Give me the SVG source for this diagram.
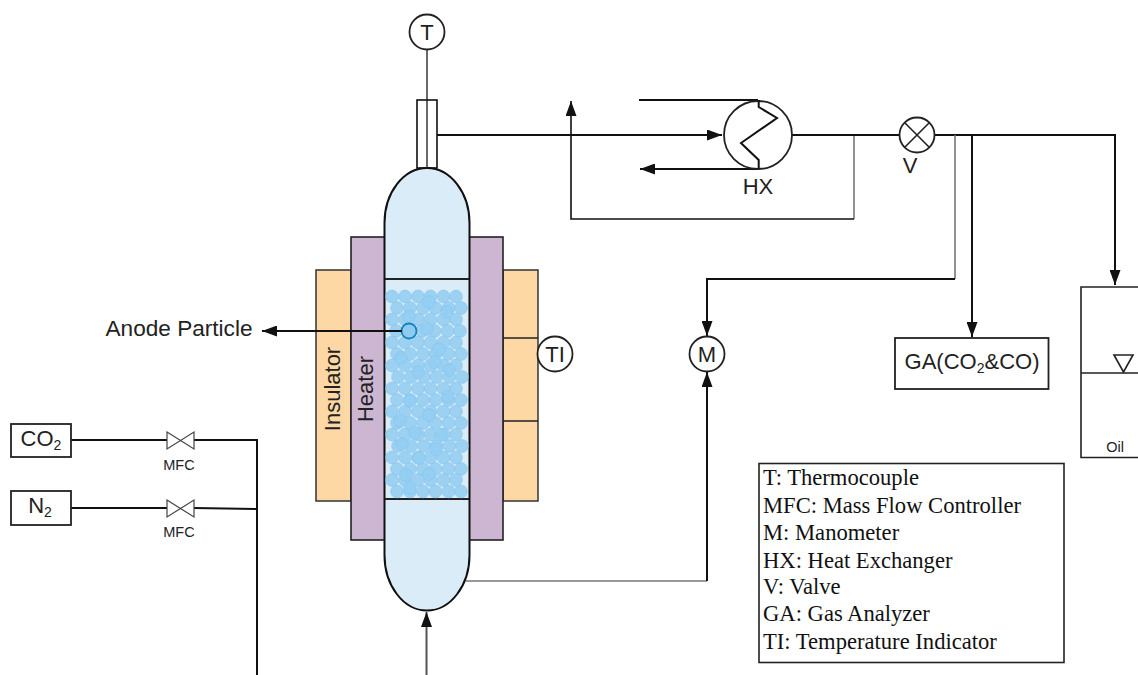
<svg xmlns="http://www.w3.org/2000/svg" width="1138" height="675" viewBox="0 0 1138 675">
<style>
text{font-family:"Liberation Sans",Arial,sans-serif;fill:#222;text-anchor:middle}
.s{fill:none;stroke:#111;stroke-width:2}
.g{fill:none;stroke:#777;stroke-width:1.6}
.b{fill:#fff;stroke:#222;stroke-width:1.8}
.t20{font-size:22px}
.t13{font-size:14.500px}
.leg{font-family:"Liberation Serif","Times New Roman",serif;font-size:22.600px;text-anchor:start;fill:#111}
.p{fill:#93cdf1;fill-opacity:.88;stroke:#84c5ee;stroke-width:.6}
</style>
<defs>
<marker id="a" viewBox="0 0 15 11" refX="15" refY="5.500" markerWidth="15" markerHeight="11" markerUnits="userSpaceOnUse" orient="auto"><path d="M0 0L15 5.500L0 11Z" fill="#111"/></marker>
<g id="r"><circle class="p" cx="392" cy="0" r="6.400"/><circle class="p" cx="405" cy="0" r="6.400"/><circle class="p" cx="418" cy="0" r="6.400"/><circle class="p" cx="430.500" cy="0" r="6.400"/><circle class="p" cx="443.500" cy="0" r="6.400"/><circle class="p" cx="456" cy="0" r="6.400"/></g>
</defs>
<rect width="1138" height="675" fill="#fff"/>
<g id="insulator">
<rect x="316" y="270" width="35" height="231" fill="#fdd7a4" stroke="#333" stroke-width="1.500"/>
<rect x="503" y="270" width="35" height="231" fill="#fdd7a4" stroke="#333" stroke-width="1.500"/>
<path d="M503 338H538M503 421H538" stroke="#222" stroke-width="1.500"/>
<text class="t20" transform="translate(340,389) rotate(-90)">Insulator</text>
</g>
<g id="heater">
<rect x="351" y="237" width="152" height="303" fill="#cdb6d1" stroke="#222" stroke-width="1.600"/>
<text class="t20" transform="translate(373,389) rotate(-90)">Heater</text>
</g>
<g id="reactor">
<path d="M384.500 223A42.500 55 0 0 1 469.500 223V555A42.500 55.500 0 0 1 384.500 555Z" fill="#daecf7" stroke="#111" stroke-width="2"/>
<path d="M385 279H469M385 499H469" stroke="#222" stroke-width="1.800"/>
<g id="particles">
<use href="#r" y="296.500"/><use href="#r" x="5" y="308"/><use href="#r" x="0" y="319.500"/><use href="#r" x="4" y="331"/><use href="#r" x="0" y="342.500"/><use href="#r" x="5" y="354"/><use href="#r" x="0" y="365.500"/><use href="#r" x="6" y="377"/><use href="#r" x="0" y="388.500"/><use href="#r" x="5" y="400"/><use href="#r" x="0" y="411.500"/><use href="#r" x="5" y="423"/><use href="#r" x="0" y="434.500"/><use href="#r" x="6" y="446"/><use href="#r" x="0" y="457.500"/><use href="#r" x="5" y="469"/><use href="#r" x="0" y="480"/><use href="#r" x="5" y="491.500"/>
<circle class="p" cx="429" cy="302" r="6.400"/><circle class="p" cx="447" cy="312" r="6.400"/><circle class="p" cx="409" cy="316" r="6.400"/><circle class="p" cx="427" cy="329" r="6.400"/><circle class="p" cx="439" cy="349" r="6.400"/><circle class="p" cx="401" cy="358" r="6.400"/><circle class="p" cx="435" cy="362" r="6.400"/><circle class="p" cx="418" cy="372" r="6.400"/><circle class="p" cx="449" cy="370" r="6.400"/><circle class="p" cx="448" cy="397" r="6.400"/><circle class="p" cx="410" cy="401" r="6.400"/><circle class="p" cx="429" cy="415" r="6.400"/><circle class="p" cx="400" cy="421" r="6.400"/><circle class="p" cx="441" cy="435" r="6.400"/><circle class="p" cx="415" cy="433" r="6.400"/><circle class="p" cx="402" cy="444" r="6.400"/><circle class="p" cx="436" cy="449" r="6.400"/><circle class="p" cx="419" cy="458" r="6.400"/><circle class="p" cx="429" cy="474" r="6.400"/><circle class="p" cx="406" cy="475" r="6.400"/><circle class="p" cx="410" cy="488" r="6.400"/>
</g>
<circle cx="409" cy="331" r="7.500" fill="#8ecbf0" stroke="#1a82bd" stroke-width="1.800"/>
</g>
<g id="connectors">
<path class="s" d="M402 331H262" marker-end="url(#a)"/>
<path d="M427 50V168" fill="none" stroke="#444" stroke-width="1.600"/>
<path class="s" d="M437 135H722" marker-end="url(#a)"/>
<path class="s" d="M639 100H758"/>
<path class="s" d="M758 169H640" marker-end="url(#a)"/>
<path class="g" d="M854 135V219"/>
<path class="s" style="stroke-width:1.600" d="M854 219H571V101" marker-end="url(#a)"/>
<path class="s" d="M792 135H899M935 135H1115V285" marker-end="url(#a)"/>
<path class="g" d="M955 135V279"/>
<path class="s" d="M955 279H707V336" marker-end="url(#a)"/>
<path class="s" d="M972 135V337" marker-end="url(#a)"/>
<path class="g" d="M466 581H707"/>
<path class="s" d="M707 581V372" marker-end="url(#a)"/>
<path class="g" style="stroke:#555;stroke-width:2" d="M426.500 675V612" marker-end="url(#a)"/>
<path class="s" d="M71 440H167M194 440H257V675M71 508H167M194 508L257 509"/>
</g>
<g id="thermowell"><rect x="417" y="100" width="20" height="68" fill="none" stroke="#111" stroke-width="1.600"/></g>
<g id="T"><circle class="b" cx="427" cy="32" r="17.500"/><text class="t20" x="427" y="40">T</text></g>
<g id="TI"><circle class="b" cx="555" cy="354" r="17.500"/><text class="t20" x="555" y="362">TI</text></g>
<g id="M"><circle class="b" cx="707" cy="354" r="17.500"/><text class="t20" x="707" y="362">M</text></g>
<g id="HX"><circle class="b" cx="758" cy="135" r="34"/><path class="s" d="M758.700 100V107L777 118L741 143L758.700 160V169"/><text class="t20" x="758" y="194">HX</text></g>
<g id="V"><circle class="b" cx="917" cy="135" r="17.500"/><path d="M905 123L929 147M929 123L905 147" stroke="#222" stroke-width="1.600"/><text class="t20" x="910" y="173">V</text></g>
<g id="GA"><rect class="b" x="895" y="338" width="153.500" height="51"/><text class="t20" x="972" y="369">GA(CO<tspan font-size="14" dy="4">2</tspan><tspan dy="-4">&amp;CO)</tspan></text></g>
<g id="oil"><path style="fill:none;stroke:#222;stroke-width:1.600" d="M1138 287H1081V457.500H1138M1081 373H1138"/><path d="M1114 355H1133L1123.500 372Z" fill="#fff" stroke="#222" stroke-width="1.600"/><text class="t13" x="1115" y="452">Oil</text></g>
<g id="co2"><rect class="b" x="11" y="424" width="60" height="33"/><text class="t20" x="41" y="446">CO<tspan font-size="14" dy="4">2</tspan></text></g>
<g id="n2"><rect class="b" x="11" y="491" width="60" height="34"/><text class="t20" x="40" y="513">N<tspan font-size="14" dy="4">2</tspan></text></g>
<g id="mfc1"><path d="M167 432L194 449V432L167 449Z" fill="#fff" stroke="#444" stroke-width="1.200"/><text class="t13" x="179" y="470">MFC</text></g>
<g id="mfc2"><path d="M167 500L194 517V500L167 517Z" fill="#fff" stroke="#444" stroke-width="1.200"/><text class="t13" x="179" y="537">MFC</text></g>
<g id="anode-label"><text class="t20" x="179" y="336" style="font-size:22.600px">Anode Particle</text></g>
<g id="legend"><rect x="759" y="463.500" width="305" height="199" fill="#fff" stroke="#222" stroke-width="1.600"/>
<text class="leg" x="763" y="485">T: Thermocouple</text>
<text class="leg" x="763" y="513">MFC: Mass Flow Controller</text>
<text class="leg" x="763" y="540">M: Manometer</text>
<text class="leg" x="763" y="568">HX: Heat Exchanger</text>
<text class="leg" x="763" y="594">V: Valve</text>
<text class="leg" x="763" y="621">GA: Gas Analyzer</text>
<text class="leg" x="763" y="649">TI: Temperature Indicator</text></g>
</svg>
